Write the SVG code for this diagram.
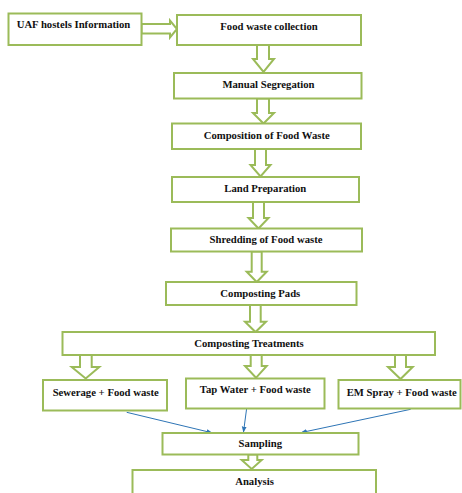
<svg xmlns="http://www.w3.org/2000/svg" width="462" height="493" viewBox="0 0 462 493">
<style>
.box{fill:#fff;stroke:#9bbb59;stroke-width:2}
.arr{fill:#fff;stroke:#9bbb59;stroke-width:2;stroke-linejoin:miter}
.lbl{font-family:"Liberation Serif","Times New Roman",serif;font-weight:bold;font-size:10.7px;fill:#111;text-anchor:middle}
.blue{stroke:#2e75b6;stroke-width:1;fill:none;marker-end:url(#ah)}
</style>
<defs>
<marker id="ah" viewBox="0 0 10 10" refX="9" refY="5" markerWidth="6" markerHeight="6" orient="auto" markerUnits="userSpaceOnUse">
<path d="M0,1 L10,5 L0,9 Z" fill="#2e75b6"/>
</marker>
</defs>
<rect width="462" height="493" fill="#fff"/>
<g id="connectors">
<path class="arr" d="M141.5,24 L170,24 L170,20.5 L177,29 L170,37.5 L170,33.5 L141.5,33.5 Z"/>
<path class="arr" d="M257,45 L269,45 L269,59 L274,59 L263.5,72 L253,59 L257,59 Z"/>
<path class="arr" d="M257,98.5 L269,98.5 L269,113 L274,113 L263.5,123.5 L253,113 L257,113 Z"/>
<path class="arr" d="M255,149 L266,149 L266,165 L270.5,165 L260.5,176.5 L250.5,165 L255,165 Z"/>
<path class="arr" d="M253,202 L264,202 L264,218 L268.5,218 L258.5,228.5 L248.5,218 L253,218 Z"/>
<path class="arr" d="M251.7,251.5 L261.7,251.5 L261.7,271.7 L266.7,271.7 L256.7,282 L246.7,271.7 L251.7,271.7 Z"/>
<path class="arr" d="M250,305 L260.7,305 L260.7,321.7 L266,321.7 L255.5,332 L245,321.7 L250,321.7 Z"/>
<path class="arr" d="M80,355 L91.7,355 L91.7,367 L99.3,367 L85.7,378.5 L71.7,367 L80,367 Z"/>
<path class="arr" d="M250.7,355 L261.7,355 L261.7,366 L266.7,366 L256,377.8 L245,366 L250.7,366 Z"/>
<path class="arr" d="M395,355 L406,355 L406,367 L412.7,367 L400.5,379 L388,367 L395,367 Z"/>
<path class="arr" d="M248.3,454.5 L257.3,454.5 L257.3,460 L261.7,460 L251.7,469 L241.7,460 L248.3,460 Z"/>
<path class="blue" d="M126.7,412.3 L212,432.8"/>
<path class="blue" d="M246.7,408 L243.5,432"/>
<path class="blue" d="M410.7,409.3 L301.5,432.5"/>
</g>
<g id="n-uaf"><rect class="box" x="8.5" y="13.5" width="133" height="31.5"/><text class="lbl" x="73.5" y="28">UAF hostels Information</text></g>
<g id="n-collection"><rect class="box" x="177" y="15" width="184" height="30"/><text class="lbl" x="269" y="29.5">Food waste collection</text></g>
<g id="n-segregation"><rect class="box" x="174" y="73" width="187.5" height="25.5"/><text class="lbl" x="268.5" y="87.5">Manual Segregation</text></g>
<g id="n-composition"><rect class="box" x="172" y="123.5" width="189" height="25.5"/><text class="lbl" x="266.7" y="138.5">Composition of Food Waste</text></g>
<g id="n-land"><rect class="box" x="172" y="177" width="187" height="25"/><text class="lbl" x="265.3" y="192">Land Preparation</text></g>
<g id="n-shredding"><rect class="box" x="171" y="228.5" width="191" height="23"/><text class="lbl" x="266" y="243">Shredding of Food waste</text></g>
<g id="n-pads"><rect class="box" x="166" y="282" width="190.5" height="23"/><text class="lbl" x="260.3" y="297">Composting Pads</text></g>
<g id="n-treatments"><rect class="box" x="62.5" y="332" width="372.5" height="23"/><text class="lbl" x="249" y="346.5">Composting Treatments</text></g>
<g id="n-sewerage"><rect class="box" x="43" y="380" width="124" height="30.5"/><text class="lbl" x="105.7" y="395.5">Sewerage + Food waste</text></g>
<g id="n-tap"><rect class="box" x="186" y="378.5" width="138.5" height="30"/><text class="lbl" x="255.3" y="393">Tap Water + Food waste</text></g>
<g id="n-em"><rect class="box" x="338.5" y="380" width="122" height="28.5"/><text class="lbl" x="401.7" y="395.5">EM Spray + Food waste</text></g>
<g id="n-sampling"><rect class="box" x="162.5" y="433" width="196" height="21.5"/><text class="lbl" x="260.3" y="447">Sampling</text></g>
<g id="n-analysis"><rect class="box" x="132.5" y="470" width="243.5" height="30"/><text class="lbl" x="254.5" y="484.5">Analysis</text></g>
</svg>
